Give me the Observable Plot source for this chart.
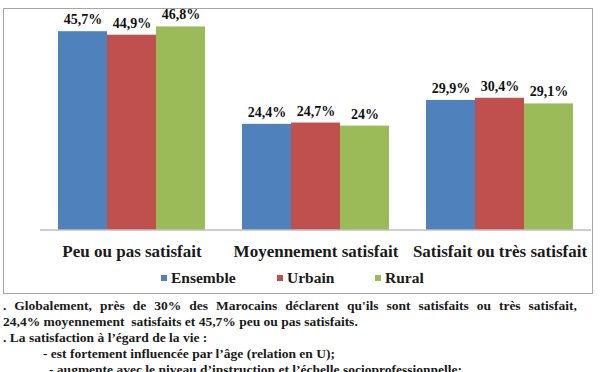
<!DOCTYPE html>
<html>
<head>
<meta charset="utf-8">
<script src="https://cdn.jsdelivr.net/npm/d3@7"></script>
<script src="https://cdn.jsdelivr.net/npm/@observablehq/plot@0.6"></script>
<style>
  html, body { margin: 0; padding: 0; background: #fff; }
  body { width: 600px; height: 372px; overflow: hidden; position: relative; font-family: 'Liberation Serif', serif; }
  #box { position: absolute; left: 3px; top: 8px; width: 590px; height: 286px; border: 1px solid #a6a6a6; box-sizing: border-box; }
  #chart { position: absolute; left: 0; top: 0; }
  .leg { position: absolute; top: 260px; font-size: 15.5px; font-weight: bold; line-height: 18px; color: #1a1a1a; white-space: nowrap; }
  .sw { display: inline-block; width: 6px; height: 6px; margin-right: 4px; vertical-align: 2px; }
  #notes { position: absolute; left: 3px; top: 298px; width: 574px; font-size: 13.5px; font-weight: bold; line-height: 16px; color: #1a1a1a; }
  #notes div { white-space: pre; }
  #notes div.just { white-space: normal; text-align: justify; text-align-last: justify; }
</style>
</head>
<body>
<div id="box"><div id="chart"></div><div id="legend"></div></div>
<div id="notes"></div>
<script>
const categories = ["Peu ou pas satisfait", "Moyennement satisfait", "Satisfait ou très satisfait"];
const series = ["Ensemble", "Urbain", "Rural"];
const ensemble = [45.7, 24.4, 29.9];
const urbain = [44.9, 24.7, 30.4];
const rural = [46.8, 24, 29.1];
const colors = ["#4f81bd", "#c0504d", "#9bbb59"];
const notes = [
  ". Globalement, près de 30% des Marocains déclarent qu'ils sont satisfaits ou très satisfait,",
  "24,4% moyennement  satisfaits et 45,7% peu ou pas satisfaits.",
  ". La satisfaction à l’égard de la vie :",
  "- est fortement influencée par l’âge (relation en U);",
  "- augmente avec le niveau d’instruction et l’échelle socioprofessionnelle;"
];
const noteIndent = [0, 0, 0, 40, 46];

const FONT = "'Liberation Serif', serif";
const values = [ensemble, urbain, rural];
const data = categories.flatMap((c, i) => series.map((s, j) => ({category: c, series: s, value: values[j][i]})));
const fmt = v => (Number.isInteger(v) ? String(v) : v.toFixed(1).replace(".", ",")) + "%";

const chart = Plot.plot({
  width: 588, height: 262,
  marginLeft: 36, marginRight: 1, marginTop: 3.5, marginBottom: 41,
  fx: {domain: categories, paddingInner: 0.2, paddingOuter: 0.092, label: null},
  x: {domain: series, padding: 0, axis: null},
  y: {domain: [0, 50], axis: null},
  color: {domain: series, range: colors},
  style: {fontFamily: FONT, background: "white", color: "#1a1a1a", overflow: "visible"},
  marks: [
    Plot.barY(data, {fx: "category", x: "series", y: "value", fill: "series"}),
    Plot.text(data, {fx: "category", x: "series", y: "value", text: d => fmt(d.value), dy: -12, fontSize: 14, fontWeight: "bold", fill: "#111"}),
    Plot.axisFx({anchor: "bottom", tickSize: 0, tickPadding: 14, fontSize: 17, fontWeight: "bold", label: null, fill: "#1a1a1a"})
  ]
});
const y0 = chart.scale("y").apply(0);
d3.select(chart).append("line")
  .attr("x1", 36).attr("x2", 587).attr("y1", y0).attr("y2", y0)
  .attr("stroke", "#bfbfbf").attr("stroke-width", 1.5);
document.getElementById("chart").appendChild(chart);

const legendLefts = [157, 273, 371];
const legend = document.getElementById("legend");
series.forEach((s, i) => {
  const item = document.createElement("div");
  item.className = "leg";
  item.style.left = legendLefts[i] + "px";
  item.innerHTML = `<span class="sw" style="background:${colors[i]}"></span>${s}`;
  legend.appendChild(item);
});
const notesEl = document.getElementById("notes");
notes.forEach((t, i) => {
  const line = document.createElement("div");
  if (i === 0) line.className = "just";
  line.style.paddingLeft = noteIndent[i] + "px";
  line.textContent = t;
  notesEl.appendChild(line);
});
</script>
</body>
</html>
